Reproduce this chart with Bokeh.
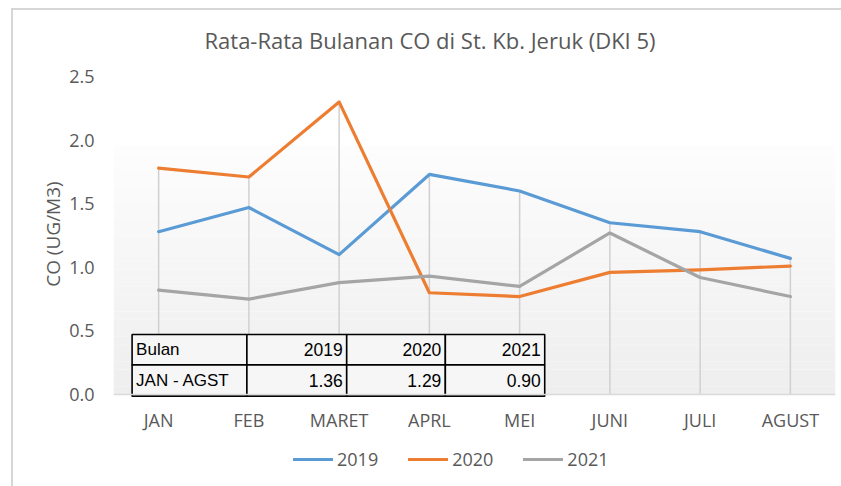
import numpy as np
from bokeh.plotting import figure
from bokeh.models import (Range1d, FactorRange, Legend, LegendItem,
                          BoxAnnotation, FixedTicker, CustomJSTickFormatter)
from bokeh.core.properties import value
from bokeh.embed import file_html
from bokeh.resources import INLINE

# ---------------- data ----------------
months = ["JAN", "FEB", "MARET", "APRL", "MEI", "JUNI", "JULI", "AGUST"]
co_2019 = [1.28, 1.47, 1.10, 1.73, 1.60, 1.35, 1.28, 1.07]
co_2020 = [1.78, 1.71, 2.30, 0.80, 0.77, 0.96, 0.98, 1.01]
co_2021 = [0.82, 0.75, 0.88, 0.93, 0.85, 1.27, 0.92, 0.77]
series_names = ["2019", "2020", "2021"]
y_ticks = [0.0, 0.5, 1.0, 1.5, 2.0, 2.5]
table_header = ["Bulan", "2019", "2020", "2021"]
table_row_label = "JAN - AGST"

title_text = "Rata-Rata  Bulanan  CO di St. Kb. Jeruk (DKI 5)"
y_label = "CO (UG/M3)"

# ---------------- style ----------------
colors = ["#5B9BD5", "#ED7D31", "#A5A5A5"]
text_gray = "#595959"
font = "Open Sans"
table_font = "Liberation Sans"
frame_line = "linear-gradient(#d6d6d6, #d6d6d6)"

# frame extends below the zero line to hold the category labels and legend
p = figure(frame_width=722, frame_height=404, x_range=FactorRange(*months),
           y_range=Range1d(-0.6761, 2.5), output_backend="svg",
           toolbar_location=None,
           min_border_left=113, min_border_right=6, min_border_top=76,
           min_border_bottom=6)
p.styles = {"margin": "0px",
            "background": (frame_line + " 11px 8px / 2px 100% no-repeat, " +
                           frame_line + " 11px 8px / 100% 2px no-repeat, white")}
p.border_fill_color = None
p.outline_line_color = None
p.xgrid.grid_line_color = None
p.ygrid.grid_line_color = None
p.background_fill_color = "white"

# title
p.title.text = title_text
p.title.align = "left"
p.title.offset = 91
p.title.standoff = 43
p.title.text_color = text_gray
p.title.text_font = font
p.title.text_font_size = "22px"
p.title.text_font_style = "normal"

# gradient back wall (decorative)
n_bands = 30
edges = np.linspace(0, 1.96, n_bands + 1)
for i in range(n_bands):
    t = i / (n_bands - 1)
    c = int(round(0xEE + (0xFD - 0xEE) * t))
    p.add_layout(BoxAnnotation(bottom=edges[i], top=edges[i + 1],
                               fill_color="#%02x%02x%02x" % (c, c, c),
                               fill_alpha=1, line_color=None, level="underlay"))

# drop lines from max value to axis
max_vals = np.maximum(np.maximum(co_2019, co_2020), co_2021)
p.segment(x0=months, y0=[0] * len(months), x1=months, y1=max_vals,
          line_color="#d0d0d0", line_width=1.5)

renderers = []
for vals, col in zip([co_2019, co_2020, co_2021], colors):
    r = p.line(months, vals, line_color=col, line_width=3.2,
               line_join="round", line_cap="round")
    renderers.append(r)

# x axis drawn at y = 0
p.xaxis.fixed_location = 0
p.xaxis.axis_line_color = "#d9d9d9"
p.xaxis.axis_line_width = 1.5
p.xaxis.major_tick_line_color = None
p.xaxis.minor_tick_line_color = None
p.xaxis.major_label_text_color = text_gray
p.xaxis.major_label_text_font = font
p.xaxis.major_label_text_font_size = "18px"
p.xaxis.major_label_standoff = 7

p.yaxis.axis_line_color = None
p.yaxis.major_tick_line_color = None
p.yaxis.minor_tick_line_color = None
p.yaxis.ticker = FixedTicker(ticks=y_ticks)
p.yaxis.formatter = CustomJSTickFormatter(code="return tick.toFixed(1);")
p.yaxis.major_label_text_color = text_gray
p.yaxis.major_label_text_font = font
p.yaxis.major_label_text_font_size = "18px"
p.yaxis.major_label_standoff = 13
# leading no-break spaces lift the label to the centre of the 0..2.5 span
p.yaxis.axis_label = "\u00a0" * 18 + y_label
p.yaxis.axis_label_text_color = text_gray
p.yaxis.axis_label_text_font = font
p.yaxis.axis_label_text_font_size = "19px"
p.yaxis.axis_label_text_font_style = "normal"
p.yaxis.axis_label_standoff = 0

# summary table (layout in category units)
avgs = ["%.2f" % np.mean(v) for v in [co_2019, co_2020, co_2021]]
col_edges = [0.206, 1.478, 2.584, 3.677, 4.778]
row_edges = [0.472, 0.233, -0.013]
lefts, rights, tops, bottoms = [], [], [], []
for r in range(2):
    for c in range(4):
        lefts.append(col_edges[c]); rights.append(col_edges[c + 1])
        tops.append(row_edges[r]); bottoms.append(row_edges[r + 1])
p.quad(left=lefts, right=rights, top=tops, bottom=bottoms,
       fill_color="#f6f6f6", line_color="black", line_width=1.6)

rows = [table_header, [table_row_label] + avgs]
for r, row in enumerate(rows):
    yc = (row_edges[r] + row_edges[r + 1]) / 2
    p.text(x=[col_edges[0]], y=[yc], text=[row[0]], x_offset=4,
           text_align="left", text_baseline="middle", text_color="black",
           text_font=value(table_font), text_font_size="17px")
    p.text(x=col_edges[2:5], y=[yc] * 3, text=row[1:], x_offset=-4,
           text_align="right", text_baseline="middle", text_color="black",
           text_font=value(table_font), text_font_size="17.5px")

# legend (inside the extended frame, below the category labels)
legend = Legend(items=[LegendItem(label=n, renderers=[r])
                       for n, r in zip(series_names, renderers)],
                orientation="horizontal", location=(180, 9),
                glyph_width=40, glyph_height=20, label_height=20,
                label_standoff=4, spacing=30,
                padding=0, margin=0, border_line_color=None,
                background_fill_alpha=0,
                label_text_color=text_gray, label_text_font=font,
                label_text_font_size="18px")
p.add_layout(legend, "center")

open("out.html", "w").write(file_html(p, INLINE))
